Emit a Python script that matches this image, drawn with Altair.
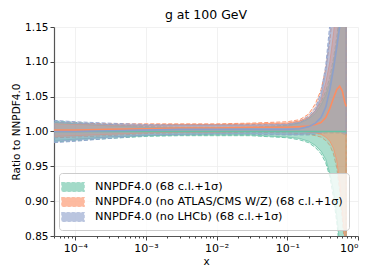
import altair as alt
import pandas as pd

xs = [5e-5, 1e-4, 3e-4, 1e-3, 3e-3, 1e-2, 3e-2, 0.1, 0.15, 0.2, 0.25, 0.3, 0.35, 0.4, 0.45, 0.5, 0.55, 0.6, 0.65, 0.68]

labels = ["NNPDF4.0 (68 c.l.+1σ)",
          "NNPDF4.0 (no ATLAS/CMS W/Z) (68 c.l.+1σ)",
          "NNPDF4.0 (no LHCb) (68 c.l.+1σ)"]
colors = ["#66c2a5", "#fc8d62", "#8da0cb"]

# NNPDF4.0 (baseline)
g_c   = [1.0] * 20
g_lo  = [0.987, 0.989, 0.992, 0.994, 0.995, 0.995, 0.995, 0.992, 0.990, 0.986, 0.980, 0.972, 0.960, 0.940, 0.915, 0.880, 0.840, 0.780, 0.700, 0.650]
g_hi  = [1.013, 1.011, 1.008, 1.006, 1.005, 1.005, 1.005, 1.008, 1.012, 1.018, 1.026, 1.038, 1.052, 1.070, 1.095, 1.125, 1.160, 1.220, 1.300, 1.350]
g_lo1 = [0.985, 0.987, 0.990, 0.993, 0.994, 0.994, 0.994, 0.991, 0.988, 0.984, 0.977, 0.968, 0.955, 0.935, 0.905, 0.870, 0.830, 0.770, 0.690, 0.640]
g_hi1 = [1.015, 1.013, 1.010, 1.007, 1.006, 1.006, 1.006, 1.009, 1.013, 1.020, 1.030, 1.042, 1.058, 1.078, 1.105, 1.135, 1.170, 1.230, 1.310, 1.360]

# no ATLAS/CMS W/Z
o_c   = [1.002, 1.002, 1.003, 1.004, 1.005, 1.005, 1.006, 1.006, 1.007, 1.008, 1.010, 1.013, 1.020, 1.033, 1.048, 1.060, 1.065, 1.058, 1.042, 1.036]
o_lo  = [0.993, 0.994, 0.996, 0.998, 0.999, 0.999, 1.000, 1.000, 1.000, 0.999, 0.998, 0.996, 0.992, 0.986, 0.976, 0.958, 0.928, 0.888, 0.848, 0.820]
o_hi  = [1.011, 1.010, 1.009, 1.009, 1.010, 1.010, 1.011, 1.012, 1.015, 1.020, 1.030, 1.045, 1.070, 1.100, 1.140, 1.190, 1.250, 1.320, 1.400, 1.450]
o_lo1 = [0.991, 0.992, 0.994, 0.997, 0.998, 0.998, 0.999, 0.998, 0.997, 0.996, 0.994, 0.992, 0.987, 0.980, 0.968, 0.948, 0.916, 0.874, 0.832, 0.800]
o_hi1 = [1.013, 1.012, 1.011, 1.011, 1.011, 1.011, 1.012, 1.014, 1.017, 1.025, 1.040, 1.060, 1.090, 1.130, 1.180, 1.240, 1.300, 1.380, 1.450, 1.500]

# no LHCb
b_c   = [1.000, 1.000, 1.001, 1.002, 1.003, 1.003, 1.003, 1.003, 1.004, 1.007, 1.012, 1.020, 1.035, 1.060, 1.090, 1.120, 1.150, 1.200, 1.250, 1.280]
b_lo  = [0.986, 0.988, 0.992, 0.995, 0.996, 0.997, 0.997, 0.996, 0.996, 0.997, 0.998, 0.999, 1.000, 1.000, 1.000, 1.000, 1.000, 0.999, 0.998, 0.997]
b_hi  = [1.014, 1.012, 1.010, 1.009, 1.009, 1.009, 1.009, 1.010, 1.013, 1.019, 1.030, 1.050, 1.085, 1.140, 1.200, 1.270, 1.350, 1.450, 1.550, 1.600]
b_lo1 = [0.984, 0.986, 0.990, 0.994, 0.995, 0.996, 0.996, 0.995, 0.995, 0.995, 0.996, 0.997, 0.998, 0.998, 0.998, 0.998, 0.998, 0.997, 0.996, 0.995]
b_hi1 = [1.016, 1.014, 1.012, 1.010, 1.010, 1.010, 1.010, 1.011, 1.015, 1.022, 1.034, 1.056, 1.095, 1.155, 1.220, 1.300, 1.380, 1.480, 1.580, 1.630]

major_x = [1e-4, 1e-3, 1e-2, 1e-1, 1.0]
minor_x = [m * 10.0 ** e for e in range(-5, 0) for m in range(2, 10) if 5e-5 <= m * 10.0 ** e <= 1.0]
y_ticks = [0.85, 0.90, 0.95, 1.00, 1.05, 1.10, 1.15]

rows = []
for lab, c, lo, hi, lo1, hi1 in [
    (labels[0], g_c, g_lo, g_hi, g_lo1, g_hi1),
    (labels[1], o_c, o_lo, o_hi, o_lo1, o_hi1),
    (labels[2], b_c, b_lo, b_hi, b_lo1, b_hi1),
]:
    for i, x in enumerate(xs):
        rows.append(dict(series=lab, x=x, c=c[i], lo=lo[i], hi=hi[i], lo1=lo1[i], hi1=hi1[i]))
df = pd.DataFrame(rows)

xscale = alt.Scale(type="log", domain=[5e-5, 1.0], nice=False)
yscale = alt.Scale(domain=[0.85, 1.15], nice=False)
fillscale = alt.Scale(domain=labels, range=colors)

xaxis = alt.Axis(values=major_x, title="x", labelOverlap=False, labelFontSize=11,
                 labelExpr="datum.value == 1 ? '10⁰' : datum.value >= 0.09 ? '10⁻¹' : datum.value >= 0.009 ? '10⁻²' : datum.value >= 0.0009 ? '10⁻³' : '10⁻⁴'")
yaxis = alt.Axis(values=y_ticks, format=".2f", title="Ratio to NNPDF4.0", labelOverlap=False)

legend = alt.Legend(title=None, orient="none", legendX=5, legendY=146,
                    symbolType="M-1.6,-0.65H1.6V0.65H-1.6Z", symbolSize=196,
                    symbolDash=[3, 2], symbolStrokeWidth=1.1, symbolOpacity=0.6,
                    labelOffset=14, padding=6, rowPadding=0, labelLimit=400,
                    strokeColor="#cccccc", fillColor="rgba(255,255,255,0.8)", cornerRadius=3,
                    labelFontSize=11.3, labelFont="DejaVu Sans", labelColor="#000000")

base = alt.Chart(df)

band1 = base.mark_area(fillOpacity=0.25, strokeDash=[4, 2], strokeWidth=1.0, strokeOpacity=0.9, clip=True).encode(
    x=alt.X("x:Q", scale=xscale, axis=xaxis),
    y=alt.Y("lo1:Q", scale=yscale, axis=yaxis),
    y2="hi1:Q",
    fill=alt.Fill("series:N", scale=fillscale, legend=legend, sort=labels),
    stroke=alt.Stroke("series:N", scale=fillscale, legend=legend, sort=labels),
)

band68 = base.mark_area(fillOpacity=0.4, strokeWidth=1.0, strokeOpacity=0.7, clip=True).encode(
    x=alt.X("x:Q", scale=xscale, axis=None),
    y=alt.Y("lo:Q", scale=yscale, axis=yaxis),
    y2="hi:Q",
    fill=alt.Fill("series:N", scale=fillscale, legend=legend, sort=labels),
    stroke=alt.Stroke("series:N", scale=fillscale, legend=legend, sort=labels),
)

central = base.mark_line(strokeWidth=1.6, clip=True).encode(
    x=alt.X("x:Q", scale=xscale, axis=None),
    y=alt.Y("c:Q", scale=yscale, axis=yaxis),
    stroke=alt.Stroke("series:N", scale=fillscale, legend=legend, sort=labels),
)

minor = alt.Chart(pd.DataFrame({"m": minor_x})).mark_point(opacity=0).encode(
    x=alt.X("m:Q", scale=xscale,
            axis=alt.Axis(values=minor_x, labels=False, tickSize=2, domain=False, grid=False,
                          orient="bottom", title=None, ticks=True, tickColor="#444444")),
)

chart = alt.layer(band1, band68, central, minor).resolve_axis(x="independent").properties(
    width=304, height=209,
    title=alt.Title("g at 100 GeV", fontSize=12.5, font="DejaVu Sans", fontWeight="normal",
                    offset=5, dy=4, color="#000000"),
    autosize=alt.AutoSizeParams(type="none"),
    padding={"left": 46, "top": 19, "right": 8, "bottom": 31},
).configure_view(stroke=None).configure_axis(
    labelFont="DejaVu Sans", labelFontSize=10.5, labelColor="#000000",
    titleFont="DejaVu Sans", titleFontSize=10.5, titleFontWeight="normal", titleColor="#000000",
    domainColor="#555555", domainWidth=1.2, tickColor="#444444", tickSize=4,
    gridColor="#eeeeee", gridWidth=0.8, labelPadding=2, titlePadding=3,
)

chart.save("out.html", embed_options={"renderer": "svg", "actions": False})
